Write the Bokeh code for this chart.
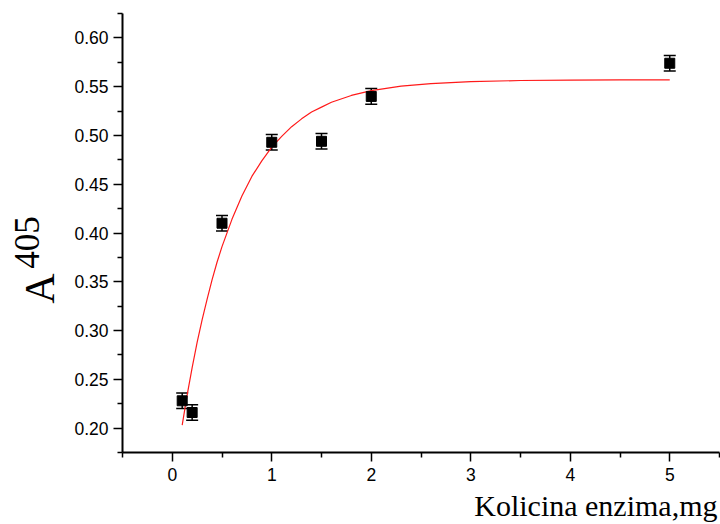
import math
from bokeh.plotting import figure
from bokeh.models import (ColumnDataSource, Whisker, TeeHead, Label, FixedTicker,
                          Range1d, NumeralTickFormatter)
from bokeh.embed import file_html
from bokeh.resources import INLINE

# ---- data ----
enzyme_mg = [0.1, 0.2, 0.5, 1.0, 1.5, 2.0, 5.0]
absorbance = [0.228, 0.216, 0.410, 0.493, 0.494, 0.540, 0.574]
abs_err = [0.008, 0.008, 0.008, 0.008, 0.008, 0.008, 0.008]

fit_x = [0.1, 0.15, 0.2, 0.25, 0.3, 0.35, 0.4, 0.45, 0.5, 0.6, 0.7, 0.8, 0.9, 1.0,
         1.1, 1.2, 1.3, 1.4, 1.5, 1.6, 1.8, 2.0, 2.3, 2.6, 3.0, 3.5, 4.0, 4.5, 5.0]
fit_y = [0.203, 0.234, 0.262, 0.288, 0.311, 0.332, 0.352, 0.370, 0.386, 0.414,
         0.438, 0.458, 0.474, 0.488, 0.499, 0.509, 0.517, 0.524, 0.529, 0.534,
         0.541, 0.546, 0.5505, 0.5532, 0.5552, 0.5563, 0.5567, 0.5569, 0.557]

y_major = [0.20, 0.25, 0.30, 0.35, 0.40, 0.45, 0.50, 0.55, 0.60]
y_minor = [0.175, 0.225, 0.275, 0.325, 0.375, 0.425, 0.475, 0.525, 0.575, 0.625]
x_major = [0, 1, 2, 3, 4, 5]
x_minor = [-0.5, 0.5, 1.5, 2.5, 3.5, 4.5, 5.5]

x_title = "Kolicina enzima,mg"
y_title_main = "A"
y_title_sup = "405"

W, H = 720, 524
p = figure(width=W, height=H, output_backend="svg", toolbar_location=None,
           x_range=Range1d(-0.5, 5.5), y_range=Range1d(0.175, 0.625),
           min_border_left=122, min_border_right=1, min_border_top=13,
           min_border_bottom=72)
p.outline_line_color = None
p.xgrid.visible = False
p.ygrid.visible = False
p.background_fill_color = "white"
p.border_fill_color = "white"

for ax in (p.xaxis[0], p.yaxis[0]):
    ax.axis_line_width = 2
    ax.axis_line_color = "black"
    ax.major_tick_line_width = 1.5
    ax.minor_tick_line_width = 1.5
    ax.major_tick_line_color = "black"
    ax.minor_tick_line_color = "black"
    ax.major_tick_in = 0
    ax.major_tick_out = 9
    ax.minor_tick_in = 0
    ax.minor_tick_out = 5
    ax.major_label_text_font = "Liberation Sans"
    ax.major_label_text_font_size = "17.5px"
    ax.major_label_text_color = "black"

p.yaxis[0].ticker = FixedTicker(ticks=y_major, minor_ticks=y_minor)
p.yaxis[0].formatter = NumeralTickFormatter(format="0.00")
p.yaxis[0].major_label_standoff = 5
p.xaxis[0].ticker = FixedTicker(ticks=x_major, minor_ticks=x_minor)
p.xaxis[0].formatter = NumeralTickFormatter(format="0")
p.xaxis[0].major_label_standoff = 6

# fit curve
p.line(fit_x, fit_y, line_color="#ff1a1a", line_width=1.2)

# error bars
src = ColumnDataSource(dict(
    x=enzyme_mg, y=absorbance,
    upper=[a + e for a, e in zip(absorbance, abs_err)],
    lower=[a - e for a, e in zip(absorbance, abs_err)],
))
wh = Whisker(base="x", upper="upper", lower="lower", source=src,
             line_color="black", line_width=1.5,
             upper_head=TeeHead(size=12, line_width=1.5, line_color="black"),
             lower_head=TeeHead(size=12, line_width=1.5, line_color="black"))
p.add_layout(wh)

p.scatter("x", "y", source=src, marker="square", size=10,
          fill_color="black", line_color="black")

# y axis title "A" with superscript "405", placed in the left side panel
p.add_layout(Label(x=14, y=164, x_units="screen", y_units="screen",
                   text=y_title_main, angle=math.pi / 2,
                   text_font="Liberation Serif", text_font_size="42px",
                   text_align="center", text_baseline="alphabetic",
                   text_color="black"), "left")
p.add_layout(Label(x=25, y=210, x_units="screen", y_units="screen",
                   text=y_title_sup, angle=math.pi / 2,
                   text_font="Liberation Serif", text_font_size="35px",
                   text_align="center", text_baseline="alphabetic",
                   text_color="black"), "left")

# x axis title, right aligned, in the bottom side panel
p.add_layout(Label(x=595, y=11.3, x_units="screen", y_units="screen",
                   text=x_title,
                   text_font="Liberation Serif", text_font_size="30px",
                   text_align="right", text_baseline="alphabetic",
                   text_color="black"), "below")

open("out.html", "w").write(file_html(p, INLINE))
